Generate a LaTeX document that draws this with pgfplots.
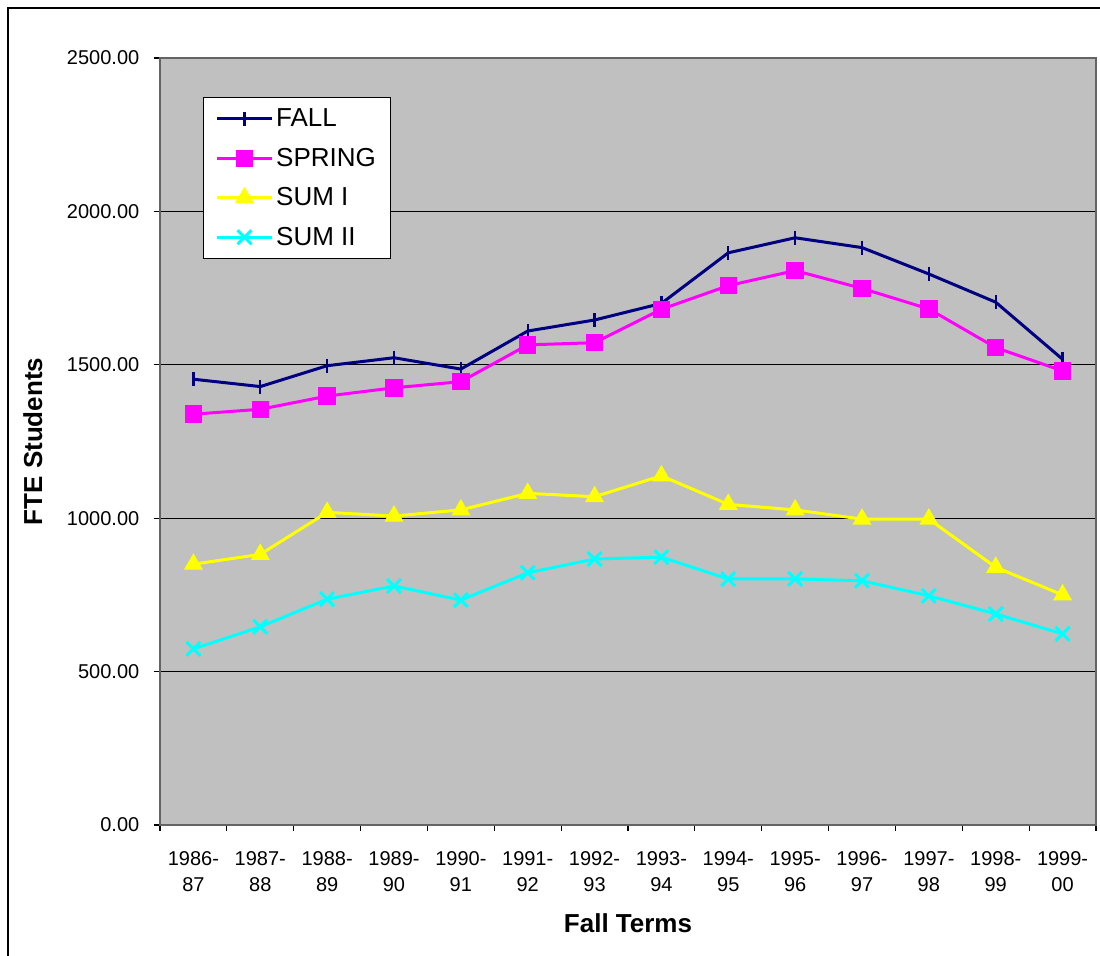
\documentclass[border=0pt]{standalone}
\usepackage{fontspec}
\setmainfont{Liberation Sans}
\usepackage{pgfplots}
\pgfplotsset{compat=1.18}
\definecolor{fallc}{RGB}{0,0,128}
\definecolor{springc}{RGB}{255,0,255}
\definecolor{sumic}{RGB}{255,255,0}
\definecolor{sumiic}{RGB}{0,255,255}
\definecolor{plotbg}{RGB}{192,192,192}
\definecolor{axgray}{RGB}{100,100,100}
\begin{document}
\begin{tikzpicture}
\useasboundingbox (-120pt,-98.25pt) rectangle (705pt,618.75pt);
\draw[line width=1.1pt] (-114pt,-120pt) -- (-114pt,612.75pt) -- (720pt,612.75pt);
\begin{axis}[
  scale only axis, width=702pt, height=575.25pt,
  at={(0pt,0pt)}, anchor=south west,
  xmin=-0.5, xmax=13.5, ymin=0, ymax=2500,
  axis background/.style={fill=plotbg},
  axis line style={draw=axgray, line width=1.2pt},
  xtick pos=bottom, ytick pos=left,
  xtick={0,...,13},
  xticklabels={{1986-\\87},{1987-\\88},{1988-\\89},{1989-\\90},{1990-\\91},{1991-\\92},{1992-\\93},{1993-\\94},{1994-\\95},{1995-\\96},{1996-\\97},{1997-\\98},{1998-\\99},{1999-\\00}},
  xticklabel style={align=center, font=\fontsize{15}{19.5}\selectfont, yshift=-11.5pt},
  minor xtick={-0.5,0.5,...,13.5},
  ytick={0,500,...,2500},
  yticklabel style={font=\fontsize{15}{18}\selectfont, xshift=-7.5pt},
  /pgf/number format/.cd, fixed, fixed zerofill, precision=2, 1000 sep={}, assume math mode=true,
  /pgfplots/.cd,
  ymajorgrids, major grid style={black, line width=0.8pt},
  tick align=outside,
  major x tick style={draw=none},
  major tick length=4.5pt, minor tick length=4.5pt,
  tick style={black, line width=0.8pt},
  xlabel={Fall Terms}, ylabel={FTE Students},
  xlabel style={font=\fontsize{19.5}{23}\selectfont\bfseries, at={(axis description cs:0.5,-0.1408)}, anchor=base},
  ylabel style={font=\fontsize{19.5}{23}\selectfont\bfseries, at={(axis description cs:-0.126,0.5)}, anchor=base, rotate=0},
  legend style={at={(0.0459,0.949)}, anchor=north west, draw=black, line width=0.8pt, fill=white,
    font=\fontsize{19.5}{22}\selectfont, row sep=10.5pt, inner xsep=9pt, inner ysep=6.5pt},
  legend cell align=left,
  legend image code/.code={\draw[mark repeat=2,mark phase=2] plot coordinates {(0pt,0pt)(20.6pt,0pt)(41.25pt,0pt)};},
]
\addplot[color=fallc, line width=2.25pt, mark=|, mark size=5.25pt, mark options={line width=1.8pt}] coordinates {
(0,1453)(1,1429)(2,1497)(3,1523)(4,1486)(5,1610)(6,1646)(7,1700)(8,1865)(9,1914)(10,1882)(11,1796)(12,1704)(13,1518)};
\addlegendentry{FALL}
\addplot[color=springc, line width=2.25pt, mark=square*, mark size=5.4pt] coordinates {
(0,1339)(1,1355)(2,1398)(3,1425)(4,1445)(5,1565)(6,1572)(7,1681)(8,1758)(9,1807)(10,1749)(11,1682)(12,1556)(13,1480)};
\addlegendentry{SPRING}
\addplot[color=sumic, line width=2.25pt, mark=triangle*, mark size=6pt] coordinates {
(0,850)(1,882)(2,1019)(3,1007)(4,1027)(5,1081)(6,1070)(7,1138)(8,1045)(9,1027)(10,997)(11,997)(12,840)(13,750)};
\addlegendentry{SUM I}
\addplot[color=sumiic, line width=2.25pt, mark=x, mark size=7.4pt] coordinates {
(0,574)(1,646)(2,736)(3,779)(4,733)(5,822)(6,867)(7,873)(8,802)(9,802)(10,796)(11,747)(12,688)(13,623)};
\addlegendentry{SUM II}
\end{axis}
\end{tikzpicture}
\end{document}
